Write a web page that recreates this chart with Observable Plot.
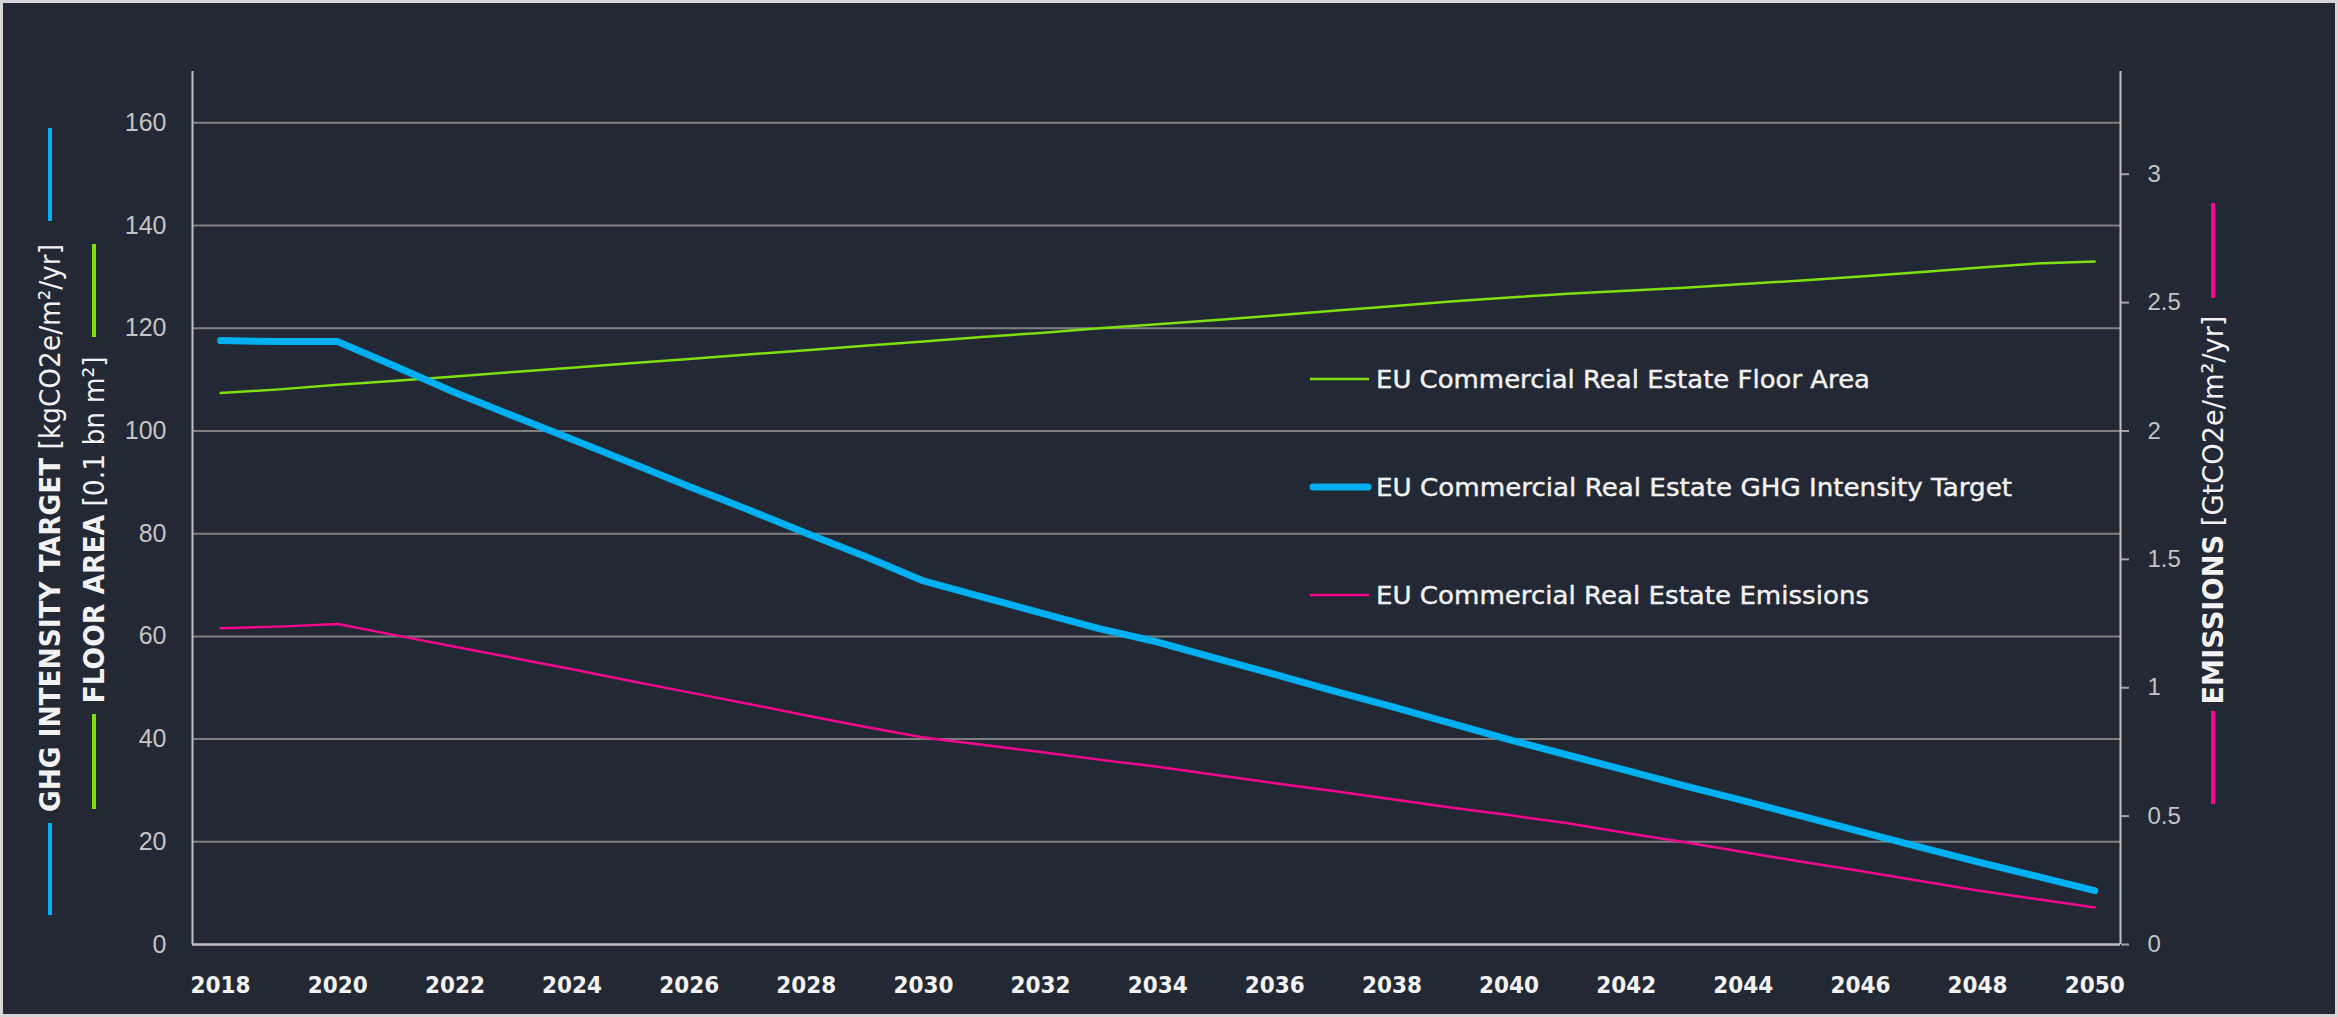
<!DOCTYPE html>
<html>
<head>
<meta charset="utf-8">
<script src="https://cdn.jsdelivr.net/npm/d3@7"></script>
<script src="https://cdn.jsdelivr.net/npm/@observablehq/plot@0.6"></script>
<style>
  html, body { margin: 0; padding: 0; background: #232934; }
  #chart svg { display: block; outline: 3px solid #d6d6d6; outline-offset: -3px; }
</style>
</head>
<body>
<div id="chart"></div>
<script>
// ---------------- data ----------------
const years = [2018, 2019, 2020, 2021, 2022, 2023, 2024, 2025, 2026, 2027, 2028,
  2029, 2030, 2031, 2032, 2033, 2034, 2035, 2036, 2037, 2038, 2039, 2040,
  2041, 2042, 2043, 2044, 2045, 2046, 2047, 2048, 2049, 2050];

// EU Commercial Real Estate Floor Area [0.1 bn m²] (left axis)
const floorArea = [107.4, 108.1, 109.0, 109.8, 110.6, 111.5, 112.3, 113.2, 114.0,
  114.9, 115.7, 116.6, 117.4, 118.3, 119.1, 120.0, 120.8, 121.6, 122.5, 123.4,
  124.3, 125.2, 126.0, 126.7, 127.3, 127.9, 128.6, 129.3, 130.1, 130.9, 131.8,
  132.6, 133.0];

// EU Commercial Real Estate GHG Intensity Target [kgCO2e/m²/yr] (left axis)
const ghgTarget = [117.6, 117.4, 117.4, 112.5, 107.5, 102.9, 98.4, 93.8, 89.2,
  84.7, 80.1, 75.6, 70.8, 67.7, 64.6, 61.5, 58.9, 55.7, 52.6, 49.4, 46.3, 43.1,
  39.9, 36.9, 33.9, 30.9, 28.0, 25.0, 22.0, 19.0, 16.1, 13.3, 10.5];

// EU Commercial Real Estate Emissions [GtCO2e/m²/yr] (right axis)
const emissions = [1.232, 1.238, 1.248, 1.204, 1.160, 1.116, 1.072, 1.026, 0.982,
  0.938, 0.892, 0.848, 0.806, 0.778, 0.750, 0.720, 0.692, 0.660, 0.628, 0.598,
  0.566, 0.534, 0.504, 0.472, 0.434, 0.398, 0.360, 0.322, 0.286, 0.248, 0.210,
  0.177, 0.144];

const seriesNames = [
  "EU Commercial Real Estate Floor Area",
  "EU Commercial Real Estate GHG Intensity Target",
  "EU Commercial Real Estate Emissions"
];
const xTicks = [2018, 2020, 2022, 2024, 2026, 2028, 2030, 2032, 2034, 2036,
  2038, 2040, 2042, 2044, 2046, 2048, 2050];
const leftTicks = [0, 20, 40, 60, 80, 100, 120, 140, 160];
const rightTicks = [0, 0.5, 1, 1.5, 2, 2.5, 3];
const leftDomain = [0, 170];
const rightDomain = [0, 3.4];
const xDomain = [2017.52, 2050.44];

// ---------------- styling ----------------
const BG = "#232934";
const C_GREEN = "#7fe010";
const C_BLUE = "#00b0f0";
const C_PINK = "#f5078f";
const FONT = "'DejaVu Sans', 'Liberation Sans', sans-serif";
const TICKFONT = "'Liberation Sans', Arimo, sans-serif";
const k = leftDomain[1] / rightDomain[1]; // right-axis -> left-axis units

const rows = [];
years.forEach((yr, i) => {
  rows.push({year: yr, series: seriesNames[0], value: floorArea[i]});
  rows.push({year: yr, series: seriesNames[1], value: ghgTarget[i]});
  rows.push({year: yr, series: seriesNames[2], value: emissions[i] * k});
});

const W = 2338, H = 1017;
const svgNode = Plot.plot({
  width: W,
  height: H,
  marginLeft: 192,
  marginRight: 218,
  marginTop: 71,
  marginBottom: 73,
  style: {background: BG, color: "#bfbfbf", fontFamily: TICKFONT, overflow: "visible"},
  x: {domain: xDomain},
  y: {domain: leftDomain},
  marks: [
    Plot.gridY(leftTicks.filter(d => d > 0), {stroke: "#808080", strokeOpacity: 1, strokeWidth: 2}),
    Plot.axisY(leftTicks, {anchor: "left", tickSize: 0, tickPadding: 26, label: null,
      fontSize: 25, fill: "#c4c4c4", tickFormat: d => String(d)}),
    Plot.axisY(rightTicks.map(v => v * k), {anchor: "right", tickSize: 8, tickPadding: 19, label: null,
      fontSize: 24, fill: "#c4c4c4", stroke: "#a6a6a6", strokeWidth: 2,
      tickFormat: d => String(+(d / k).toFixed(2))}),
    Plot.axisX(xTicks, {anchor: "bottom", tickSize: 0, tickPadding: 32, label: null,
      fontSize: 23, fontWeight: "bold", fill: "#f2f2f2", tickFormat: d => String(d)}),
    Plot.ruleX(xDomain, {stroke: "#bfbfbf", strokeWidth: 2}),
    Plot.ruleY([0], {stroke: "#bfbfbf", strokeWidth: 2.5}),
    Plot.lineY(rows.filter(d => d.series === seriesNames[0]),
      {x: "year", y: "value", stroke: C_GREEN, strokeWidth: 2.5}),
    Plot.lineY(rows.filter(d => d.series === seriesNames[2]),
      {x: "year", y: "value", stroke: C_PINK, strokeWidth: 2.5}),
    Plot.lineY(rows.filter(d => d.series === seriesNames[1]),
      {x: "year", y: "value", stroke: C_BLUE, strokeWidth: 7, strokeLinecap: "round", strokeLinejoin: "round"})
  ]
});

document.getElementById("chart").appendChild(svgNode);
const svg = d3.select(svgNode);

// condense x tick labels
svg.selectAll('g[aria-label="x-axis tick label"] text')
  .attr("font-family", FONT).attr("textLength", 60).attr("lengthAdjust", "spacingAndGlyphs");

// ---------------- axis titles (rotated) ----------------
const titles = [
  {bold: "GHG INTENSITY TARGET", rest: " [kgCO2e/m²/yr]", x: 50, y: 528, len: 568, color: C_BLUE, seg: [[128, 221], [823, 915]]},
  {bold: "FLOOR AREA", rest: " [0.1 bn m²]", x: 94, y: 530, len: 347, color: C_GREEN, seg: [[244, 337], [714, 809]]},
  {bold: "EMISSIONS", rest: " [GtCO2e/m²/yr]", x: 2213, y: 510, len: 389, color: C_PINK, seg: [[203, 298], [711, 804]]}
];
const tg = svg.append("g").attr("font-family", FONT);
titles.forEach(t => {
  t.seg.forEach(([a, b]) => {
    tg.append("line").attr("x1", t.x).attr("x2", t.x).attr("y1", a).attr("y2", b)
      .attr("stroke", t.color).attr("stroke-width", 4);
  });
  const txt = tg.append("text")
    .attr("transform", `translate(${t.x},${t.y}) rotate(-90)`)
    .attr("text-anchor", "middle").attr("dy", "0.36em")
    .attr("font-size", 29).attr("fill", "#f2f2f2")
    .attr("textLength", t.len).attr("lengthAdjust", "spacingAndGlyphs");
  txt.append("tspan").attr("font-weight", "bold").text(t.bold);
  txt.append("tspan").attr("font-weight", "normal").text(t.rest);
});

// ---------------- in-plot legend ----------------
const legend = [
  {name: seriesNames[0], color: C_GREEN, w: 2.5, y: 379, len: 494, cap: "butt"},
  {name: seriesNames[1], color: C_BLUE, w: 7, y: 487, len: 636, cap: "round"},
  {name: seriesNames[2], color: C_PINK, w: 2.5, y: 595, len: 493, cap: "butt"}
];
const lg = svg.append("g").attr("font-family", FONT).attr("text-anchor", "start");
legend.forEach(l => {
  lg.append("line").attr("x1", l.cap === "round" ? 1313 : 1310).attr("x2", l.cap === "round" ? 1368 : 1369)
    .attr("y1", l.y).attr("y2", l.y)
    .attr("stroke", l.color).attr("stroke-width", l.w).attr("stroke-linecap", l.cap);
  lg.append("text").attr("x", 1376).attr("y", l.y).attr("dy", "0.36em")
    .attr("text-anchor", "start")
    .attr("font-size", 25).attr("fill", "#f2f2f2")
    .attr("stroke", "#f2f2f2").attr("stroke-width", 0.4)
    .attr("textLength", l.len).attr("lengthAdjust", "spacingAndGlyphs")
    .text(l.name);
});
</script>
</body>
</html>
